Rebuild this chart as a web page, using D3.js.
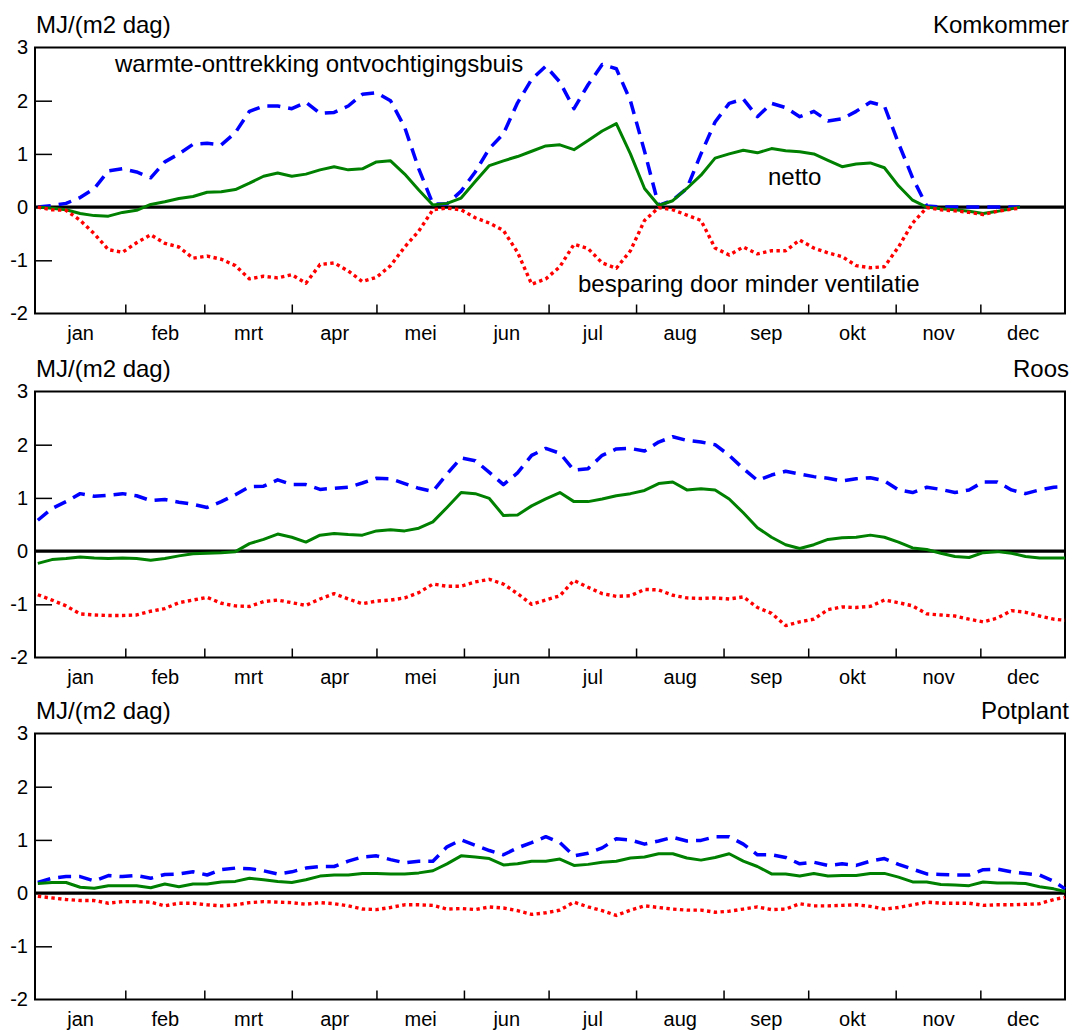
<!DOCTYPE html>
<html>
<head>
<meta charset="utf-8">
<script src="https://cdn.jsdelivr.net/npm/d3@7"></script>
<style>
  html, body { margin: 0; padding: 0; background: #fff; }
  svg { display: block; font-family: "Liberation Sans", Arial, Helvetica, sans-serif; }
</style>
</head>
<body>
<svg id="chart" width="1072" height="1030"></svg>
<script>
// ---------- categories / ticks ----------
const months = ["jan","feb","mrt","apr","mei","jun","jul","aug","sep","okt","nov","dec"];
const monthBounds = [0,32,60,91,121,152,182,213,244,274,305,335,365]; // day of year
const yTickLabels = [3,2,1,0,-1,-2];
const yInnerTicks = [2,1,-1];
const unitLabel = "MJ/(m2 dag)";
const panelTitles = ["Komkommer","Roos","Potplant"];
const seriesNames = ["warmte-onttrekking ontvochtigingsbuis","netto","besparing door minder ventilatie"];

// ---------- days (x values) ----------
const komDays = [1,6,11,16,21,26,31,36,41,46,51,56,61,66,71,76,81,86,91,96,101,106,111,116,121,126,131,136,141,146,151,156,161,166,171,176,181,186,191,196,201,206,211,216,221,226,231,236,241,246,251,256,261,266,271,276,281,286,291,296,301,306,311,316,321,326,331,336,341,346,349];
const fullDays = [1,6,11,16,21,26,31,36,41,46,51,56,61,66,71,76,81,86,91,96,101,106,111,116,121,126,131,136,141,146,151,156,161,166,171,176,181,186,191,196,201,206,211,216,221,226,231,236,241,246,251,256,261,266,271,276,281,286,291,296,301,306,311,316,321,326,331,336,341,346,351,356,361,365];

// ---------- Komkommer ----------
const komWarmte = [0.0,0.03,0.07,0.18,0.35,0.68,0.72,0.66,0.55,0.85,1.0,1.18,1.2,1.17,1.4,1.8,1.9,1.9,1.85,1.97,1.76,1.78,1.9,2.12,2.15,2.0,1.5,0.72,0.06,0.06,0.3,0.66,1.1,1.38,1.96,2.4,2.65,2.35,1.85,2.3,2.68,2.6,2.0,1.05,0.03,0.13,0.35,1.0,1.6,1.95,2.03,1.7,1.95,1.87,1.7,1.8,1.62,1.66,1.8,1.97,1.9,1.2,0.55,0.02,0,0,0,0,0,0,0];
const komNetto = [0.0,-0.02,-0.05,-0.12,-0.16,-0.17,-0.1,-0.06,0.05,0.1,0.16,0.2,0.28,0.29,0.33,0.45,0.58,0.64,0.58,0.62,0.7,0.76,0.7,0.72,0.85,0.87,0.62,0.32,0.04,0.07,0.17,0.48,0.78,0.87,0.95,1.05,1.15,1.17,1.08,1.25,1.43,1.57,1.0,0.35,0.03,0.12,0.35,0.6,0.92,1.0,1.07,1.02,1.1,1.06,1.04,1.0,0.88,0.76,0.81,0.83,0.74,0.4,0.13,0.0,-0.03,-0.05,-0.08,-0.12,-0.08,-0.03,0.0];
const komBesparing = [0.0,-0.05,-0.06,-0.25,-0.5,-0.8,-0.85,-0.67,-0.52,-0.68,-0.75,-0.96,-0.92,-0.98,-1.1,-1.35,-1.3,-1.33,-1.27,-1.43,-1.08,-1.05,-1.2,-1.4,-1.32,-1.1,-0.75,-0.45,-0.05,-0.02,-0.05,-0.2,-0.3,-0.44,-0.85,-1.45,-1.35,-1.12,-0.7,-0.78,-1.05,-1.15,-0.82,-0.25,-0.01,-0.05,-0.15,-0.25,-0.77,-0.9,-0.75,-0.88,-0.82,-0.82,-0.62,-0.77,-0.86,-0.93,-1.1,-1.14,-1.12,-0.75,-0.3,-0.01,-0.05,-0.07,-0.1,-0.14,-0.08,-0.04,-0.02];

// ---------- Roos ----------
const roosWarmte = [0.58,0.8,0.93,1.08,1.03,1.05,1.08,1.04,0.95,0.97,0.92,0.88,0.82,0.93,1.06,1.21,1.22,1.34,1.25,1.25,1.16,1.18,1.2,1.28,1.37,1.36,1.27,1.18,1.12,1.45,1.75,1.7,1.48,1.25,1.47,1.8,1.93,1.84,1.52,1.55,1.8,1.92,1.93,1.88,2.05,2.15,2.08,2.05,2.0,1.8,1.55,1.33,1.43,1.5,1.45,1.4,1.37,1.32,1.36,1.38,1.32,1.15,1.1,1.2,1.16,1.1,1.15,1.3,1.3,1.15,1.08,1.15,1.2,1.21];
const roosNetto = [-0.23,-0.16,-0.14,-0.11,-0.13,-0.14,-0.13,-0.14,-0.17,-0.14,-0.09,-0.05,-0.04,-0.03,-0.01,0.14,0.22,0.32,0.26,0.17,0.3,0.33,0.31,0.3,0.38,0.4,0.38,0.43,0.55,0.82,1.1,1.08,0.99,0.67,0.68,0.85,0.98,1.1,0.93,0.93,0.98,1.04,1.08,1.14,1.27,1.3,1.15,1.17,1.15,0.98,0.72,0.44,0.26,0.12,0.05,0.12,0.22,0.25,0.26,0.3,0.26,0.17,0.06,0.03,-0.04,-0.1,-0.12,-0.03,-0.01,-0.04,-0.1,-0.13,-0.13,-0.13];
const roosBesparing = [-0.82,-0.92,-1.03,-1.18,-1.2,-1.21,-1.21,-1.2,-1.13,-1.08,-0.97,-0.92,-0.87,-0.98,-1.03,-1.04,-0.95,-0.92,-0.97,-1.02,-0.9,-0.8,-0.9,-0.99,-0.94,-0.92,-0.88,-0.78,-0.62,-0.66,-0.66,-0.58,-0.53,-0.62,-0.8,-1.0,-0.92,-0.84,-0.55,-0.68,-0.8,-0.85,-0.84,-0.72,-0.73,-0.83,-0.88,-0.89,-0.88,-0.9,-0.86,-1.06,-1.17,-1.4,-1.33,-1.28,-1.1,-1.05,-1.06,-1.04,-0.92,-0.97,-1.03,-1.18,-1.2,-1.22,-1.28,-1.33,-1.26,-1.12,-1.15,-1.22,-1.28,-1.3];

// ---------- Potplant ----------
const potWarmte = [0.2,0.28,0.31,0.31,0.23,0.33,0.31,0.33,0.28,0.35,0.36,0.4,0.34,0.44,0.47,0.46,0.42,0.36,0.4,0.47,0.5,0.5,0.6,0.68,0.7,0.63,0.57,0.6,0.6,0.87,1.0,0.9,0.8,0.72,0.85,0.95,1.06,0.95,0.7,0.75,0.85,1.02,1.0,0.92,0.98,1.05,0.98,0.99,1.06,1.06,0.92,0.72,0.72,0.67,0.55,0.58,0.52,0.55,0.52,0.6,0.65,0.54,0.45,0.36,0.35,0.34,0.34,0.44,0.45,0.4,0.37,0.34,0.22,0.08];
const potNetto = [0.18,0.2,0.2,0.11,0.09,0.14,0.14,0.14,0.1,0.17,0.12,0.17,0.17,0.21,0.22,0.28,0.25,0.22,0.2,0.25,0.32,0.34,0.34,0.37,0.37,0.36,0.36,0.38,0.42,0.55,0.7,0.68,0.65,0.53,0.55,0.6,0.6,0.64,0.52,0.54,0.58,0.6,0.66,0.68,0.74,0.74,0.66,0.62,0.67,0.74,0.6,0.5,0.36,0.36,0.32,0.37,0.32,0.33,0.33,0.37,0.37,0.3,0.21,0.21,0.16,0.15,0.14,0.21,0.19,0.19,0.18,0.12,0.08,0.03];
const potBesparing = [-0.06,-0.09,-0.12,-0.14,-0.14,-0.19,-0.16,-0.16,-0.17,-0.24,-0.19,-0.19,-0.22,-0.24,-0.22,-0.18,-0.16,-0.17,-0.18,-0.21,-0.18,-0.2,-0.24,-0.3,-0.31,-0.27,-0.22,-0.22,-0.23,-0.3,-0.29,-0.31,-0.26,-0.28,-0.33,-0.4,-0.37,-0.32,-0.17,-0.26,-0.33,-0.42,-0.32,-0.24,-0.27,-0.3,-0.32,-0.32,-0.36,-0.34,-0.3,-0.26,-0.31,-0.3,-0.2,-0.24,-0.24,-0.23,-0.22,-0.25,-0.3,-0.27,-0.22,-0.17,-0.19,-0.19,-0.19,-0.23,-0.22,-0.22,-0.21,-0.2,-0.12,-0.08];

// ---------- panel table built from the arrays ----------
const panels = [
  { title: panelTitles[0], days: komDays,  values: [komWarmte, komNetto, komBesparing], annotate: true },
  { title: panelTitles[1], days: fullDays, values: [roosWarmte, roosNetto, roosBesparing], annotate: false },
  { title: panelTitles[2], days: fullDays, values: [potWarmte, potNetto, potBesparing], annotate: false }
];

// ---------- layout & styles ----------
const left = 35, right = 1065;
const panelTops = [47.5, 391.5, 733.5];
const panelH = 266;
const styles = [
  { color: "#0000ff", width: 3.5, dash: "13,8" },
  { color: "#008000", width: 3,   dash: null },
  { color: "#ff0000", width: 3.4, dash: "3.4,3.4" }
];
const FONT = "Liberation Sans, Arial, sans-serif";

const svg = d3.select("#chart");
const x = d3.scaleLinear().domain([0, 365]).range([left, right]);

panels.forEach((p, pi) => {
  const top = panelTops[pi];
  const y = d3.scaleLinear().domain([-2, 3]).range([top + panelH, top]);
  const g = svg.append("g");

  // inward x ticks at month boundaries
  g.append("g")
    .attr("transform", `translate(0,${top + panelH})`)
    .call(d3.axisBottom(x).tickValues(monthBounds.slice(1, 12)).tickSize(-9).tickFormat(""))
    .call(a => a.select(".domain").remove())
    .call(a => a.selectAll("line").attr("stroke", "#000").attr("stroke-width", 1.5));

  // month labels
  const mids = months.map((m, i) => (monthBounds[i] + monthBounds[i + 1]) / 2);
  g.append("g")
    .attr("transform", `translate(0,${top + panelH})`)
    .call(d3.axisBottom(x).tickValues(mids).tickSize(0).tickPadding(12)
      .tickFormat((d, i) => months[i]))
    .call(a => a.select(".domain").remove())
    .call(a => a.selectAll("text").attr("font-size", 20).attr("fill", "#000").attr("font-family", FONT));

  // inward y ticks
  g.append("g")
    .attr("transform", `translate(${left},0)`)
    .call(d3.axisLeft(y).tickValues(yInnerTicks).tickSize(-17).tickFormat(""))
    .call(a => a.select(".domain").remove())
    .call(a => a.selectAll("line").attr("stroke", "#000").attr("stroke-width", 1.5));

  // y labels (plain hyphen minus as in the original)
  g.append("g")
    .attr("transform", `translate(${left},0)`)
    .call(d3.axisLeft(y).tickValues(yTickLabels).tickSize(0).tickPadding(7).tickFormat(d => String(d)))
    .call(a => a.select(".domain").remove())
    .call(a => a.selectAll("text").attr("font-size", 20).attr("fill", "#000").attr("font-family", FONT));

  // frame
  g.append("rect")
    .attr("x", left).attr("y", top)
    .attr("width", right - left).attr("height", panelH)
    .attr("fill", "none").attr("stroke", "#000").attr("stroke-width", 2);

  // zero line
  g.append("line")
    .attr("x1", left).attr("x2", right)
    .attr("y1", y(0)).attr("y2", y(0))
    .attr("stroke", "#000").attr("stroke-width", 3.3);

  // series
  const line = d3.line().x(d => x(d[0])).y(d => y(d[1]));
  p.values.forEach((vals, si) => {
    const pts = p.days.map((d, i) => [d, vals[i]]);
    const st = styles[si];
    const path = g.append("path")
      .datum(pts)
      .attr("d", line)
      .attr("fill", "none")
      .attr("stroke", st.color)
      .attr("stroke-width", st.width)
      .attr("stroke-linejoin", "round");
    if (st.dash) path.attr("stroke-dasharray", st.dash);
  });

  // unit label & title
  g.append("text").attr("x", left + 1).attr("y", top - 14.5)
    .attr("font-size", 24).text(unitLabel);
  g.append("text").attr("x", 1069).attr("y", top - 14.5)
    .attr("text-anchor", "end").attr("font-size", 24).text(p.title);

  if (p.annotate) {
    g.append("text").attr("x", 115).attr("y", 72).attr("font-size", 24).text(seriesNames[0]);
    g.append("text").attr("x", 768).attr("y", 185).attr("font-size", 24).text(seriesNames[1]);
    g.append("text").attr("x", 578).attr("y", 292).attr("font-size", 24).text(seriesNames[2]);
  }
});
</script>
</body>
</html>
